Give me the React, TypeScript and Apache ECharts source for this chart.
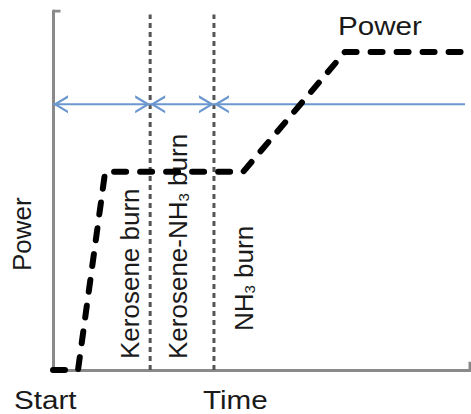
import React, { useEffect, useRef } from "react";
import * as echarts from "echarts";

// Power profile (arbitrary time units 0..100, arbitrary power units 0..100)
const powerTime = [0, 6, 12.5, 45.6, 70, 100];
const powerLevel = [0, 0, 55.2, 55.2, 88.6, 88.6];

// Phase boundaries (dotted verticals) and the arrow line level
const phaseBoundaries = [23.3, 38.6];
const phaseTop = 99;
const arrowLevel = 74;
const arrowEnd = 98.8;

// Text labels
const phaseLabels = ["Kerosene burn", "Kerosene-NH{sub|3} burn", "NH{sub|3} burn"];
const xAxisLabels = ["Start", "Time"];
const yAxisLabel = "Power";
const seriesLabel = "Power";

const AXIS = "#8a8a8a";
const BLUE = "#6b97cf";
const TEXT = "#1a1a1a";
const FONT = "'Liberation Sans', Arial, sans-serif";

const LEFT_ARROW = "path://M0,9 L15,0 L15,2.6 L4.2,9 L15,15.4 L15,18 Z";
const RIGHT_ARROW = "path://M15,9 L0,0 L0,2.6 L10.8,9 L0,15.4 L0,18 Z";

function arrowPoint(x: number, dir: "left" | "right" | "none") {
  if (dir === "none") return { value: [x, arrowLevel], symbol: "none" };
  return {
    value: [x, arrowLevel],
    symbol: dir === "left" ? LEFT_ARROW : RIGHT_ARROW,
    symbolSize: [15, 18],
    symbolOffset: dir === "left" ? [7.5, 0] : [-7.5, 0],
  };
}

export default function App() {
  const ref = useRef<HTMLDivElement>(null);
  useEffect(() => {
    if (!ref.current) return;
    const chart = echarts.init(ref.current, undefined, { renderer: "svg" });

    const stops = [0, ...phaseBoundaries, arrowEnd];
    const arrowSeries = stops.slice(0, -1).map((s, i) => ({
      type: "line",
      silent: true,
      z: 3,
      showSymbol: true,
      lineStyle: { color: BLUE, width: 2 },
      itemStyle: { color: BLUE, borderWidth: 0 },
      data: [
        arrowPoint(s, "left"),
        arrowPoint(stops[i + 1], i + 1 === stops.length - 1 ? "none" : "right"),
      ],
    }));

    const boundarySeries = phaseBoundaries.map((b) => ({
      type: "line",
      silent: true,
      z: 2,
      symbol: "none",
      lineStyle: { color: "#555555", width: 3, type: [5, 4] },
      data: [
        [b, 0],
        [b, phaseTop],
      ],
    }));

    const textStyle = (text: string, extra: any = {}) => ({
      text,
      fill: TEXT,
      font: `26px ${FONT}`,
      fontSize: 26,
      fontFamily: FONT,
      rich: {
        sub: { fontSize: 15, fontFamily: FONT, fill: TEXT, lineHeight: 16, verticalAlign: "bottom" },
      },
      ...extra,
    });

    chart.setOption({
      animation: false,
      grid: { left: 53, right: 1, top: 11, bottom: 44 },
      xAxis: {
        type: "value",
        min: 0,
        max: 100,
        axisLine: { show: true, onZero: false, lineStyle: { color: AXIS, width: 3 } },
        axisTick: { show: false },
        axisLabel: { show: false },
        splitLine: { show: false },
      },
      yAxis: {
        type: "value",
        min: 0,
        max: 100,
        axisLine: { show: true, onZero: false, lineStyle: { color: AXIS, width: 3 } },
        axisTick: { show: false },
        axisLabel: { show: false },
        splitLine: { show: false },
      },
      series: [
        {
          type: "line",
          silent: true,
          z: 1,
          symbol: "none",
          lineStyle: { color: AXIS, width: 3 },
          data: [
            [0, 100],
            [1.8, 100],
          ],
        },
        {
          type: "line",
          silent: true,
          z: 1,
          symbol: "none",
          lineStyle: { color: AXIS, width: 3 },
          data: [
            [100, 0],
            [100, 2.3],
          ],
        },
        ...boundarySeries,
        ...arrowSeries,
        {
          type: "line",
          name: seriesLabel,
          silent: true,
          z: 4,
          symbol: "none",
          lineStyle: { color: "#000", width: 6, type: [12, 14], cap: "round", join: "round" },
          data: powerTime.map((t, i) => [t, powerLevel[i]]),
        },
      ],
      graphic: [
        { type: "text", x: 14, y: 413, scaleX: 1.14, style: textStyle(xAxisLabels[0], { align: "left", verticalAlign: "bottom" }) },
        { type: "text", x: 203, y: 413, scaleX: 1.14, style: textStyle(xAxisLabels[1], { align: "left", verticalAlign: "bottom" }) },
        { type: "text", x: 338, y: 39, scaleX: 1.14, style: textStyle(seriesLabel, { align: "left", verticalAlign: "bottom" }) },
        { type: "text", x: 35, y: 271, rotation: Math.PI / 2, style: textStyle(yAxisLabel, { align: "left", verticalAlign: "bottom" }) },
        { type: "text", x: 143, y: 359, rotation: Math.PI / 2, style: textStyle(phaseLabels[0], { align: "left", verticalAlign: "bottom" }) },
        { type: "text", x: 191, y: 359, rotation: Math.PI / 2, style: textStyle(phaseLabels[1], { align: "left", verticalAlign: "bottom" }) },
        { type: "text", x: 257, y: 331, rotation: Math.PI / 2, style: textStyle(phaseLabels[2], { align: "left", verticalAlign: "bottom" }) },
      ],
    });
    return () => chart.dispose();
  }, []);
  return <div ref={ref} style={{ position: "fixed", left: 0, top: 0, width: 471, height: 414, background: "#fff" }} />;
}
